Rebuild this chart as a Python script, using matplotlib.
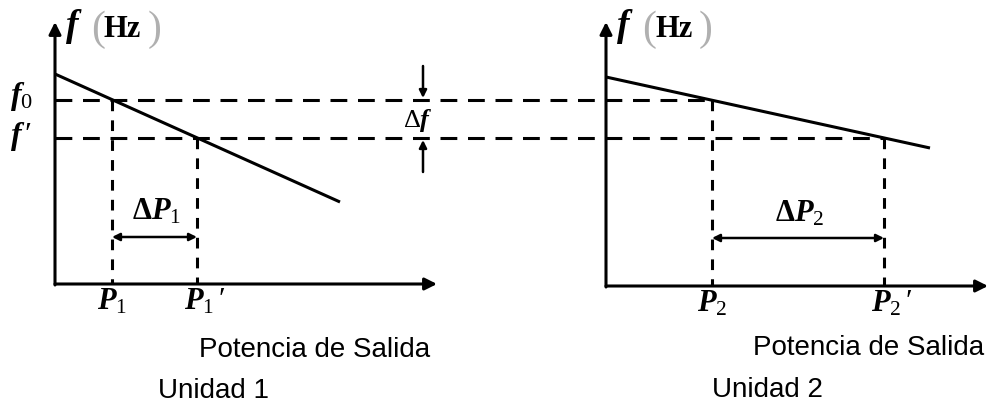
import matplotlib
matplotlib.use('Agg')
from matplotlib import pyplot as plt

plt.rcParams['mathtext.fontset'] = 'custom'
plt.rcParams['mathtext.it'] = 'Liberation Serif:italic:bold'
plt.rcParams['mathtext.rm'] = 'Liberation Serif'
plt.rcParams['mathtext.bf'] = 'Liberation Serif:bold'

# two generator units sharing one frequency change (pixel-like diagram units, y grows downward)
units = ['Unidad 1', 'Unidad 2']
origin_x = [55, 606]
baseline_y = [284, 286]
axis_end_x = [437, 988]
axis_top_y = 22
droop_start_y = [74, 77]
droop_end_x = [340, 930]
droop_end_y = [202, 148]
f_nominal = 100
f_new = 138
p_initial = [112, 712]
p_final = [197, 884]
p_names = [r'$P_1$', r'$P_2$']
p_primes = [r"$P_1\,\prime$", r"$P_2\,\prime$"]
dp_names = [r'$\mathbf{\Delta}P_1$', r'$\mathbf{\Delta}P_2$']

fig = plt.figure(figsize=(9.95, 4.04), dpi=100)
ax = fig.add_axes([0, 0, 1, 1])
ax.set_xlim(0, 995)
ax.set_ylim(404, 0)
ax.axis('off')

lw = 2.2
for i in range(2):
    x0, y0 = origin_x[i], baseline_y[i]
    # axes with arrow heads
    ax.annotate('', xy=(axis_end_x[i], y0), xytext=(x0, y0),
                arrowprops=dict(arrowstyle='-|>', lw=lw, color='k',
                                mutation_scale=18, shrinkA=0, shrinkB=0))
    ax.annotate('', xy=(x0, axis_top_y), xytext=(x0, y0 + 1),
                arrowprops=dict(arrowstyle='-|>', lw=lw, color='k',
                                mutation_scale=18, shrinkA=0, shrinkB=0))
    # droop characteristic
    ax.plot([x0, droop_end_x[i]], [droop_start_y[i], droop_end_y[i]],
            color='k', lw=lw, solid_capstyle='butt')
    # operating points dropped to the power axis
    for px in (p_initial[i], p_final[i]):
        ax.plot([px, px], [f_nominal if px == p_initial[i] else f_new, y0],
                color='k', lw=lw, dashes=(3.5, 3.0))
    # power change arrow
    ya = 237 if i == 0 else 238
    ax.annotate('', xy=(p_final[i], ya), xytext=(p_initial[i], ya),
                arrowprops=dict(arrowstyle='<|-|>', lw=1.8, color='k',
                                mutation_scale=11, shrinkA=0, shrinkB=0))
    ax.text((p_initial[i] + p_final[i]) / 2 + 2, ya - 17, dp_names[i],
            fontsize=22, ha='center', va='baseline')
    ax.text(p_initial[i], baseline_y[i] + 25, p_names[i],
            fontsize=22, ha='center', va='baseline')
    ax.text(p_final[i] + 8, baseline_y[i] + 25, p_primes[i],
            fontsize=22, ha='center', va='baseline')
    # axis labels
    ax.text(x0 + 10, 36, r'$f$', fontsize=27, va='baseline')
    ax.text(x0 + 36, 40, '(', fontsize=30, color='#b0b0b0', va='baseline',
            family='Liberation Serif')
    ax.text(x0 + 49, 37, 'Hz', fontsize=22, weight='bold', va='baseline',
            family='Liberation Serif')
    ax.text(x0 + 93, 40, ')', fontsize=30, color='#b0b0b0', va='baseline',
            family='Liberation Serif')

# frequency levels shared by both units
ax.plot([origin_x[0], p_initial[1]], [f_nominal, f_nominal],
        color='k', lw=lw, dashes=(5.5, 3.5))
ax.plot([origin_x[0], p_final[1]], [f_new, f_new],
        color='k', lw=lw, dashes=(5.5, 3.5))
ax.text(10, 104, r'$f_0$', fontsize=23, va='baseline')
ax.text(10, 144, r"$f\,\prime$", fontsize=23, va='baseline')

# frequency drop marker
ax.annotate('', xy=(423, f_nominal - 2), xytext=(423, 66),
            arrowprops=dict(arrowstyle='-|>', lw=1.8, color='k',
                            mutation_scale=11, shrinkA=0, shrinkB=0))
ax.annotate('', xy=(423, f_new + 2), xytext=(423, 172),
            arrowprops=dict(arrowstyle='-|>', lw=1.8, color='k',
                            mutation_scale=11, shrinkA=0, shrinkB=0))
ax.text(418, 127, r'$\Delta f$', fontsize=19, ha='center', va='baseline')

# captions
ax.text(315, 357, 'Potencia de Salida', fontsize=20, ha='center',
        va='baseline', family='Liberation Sans')
ax.text(869, 355, 'Potencia de Salida', fontsize=20, ha='center',
        va='baseline', family='Liberation Sans')
ax.text(214, 398, units[0], fontsize=20, ha='center', va='baseline',
        family='Liberation Sans')
ax.text(767, 397, units[1], fontsize=20, ha='center', va='baseline',
        family='Liberation Sans')

fig.savefig('out.png', dpi=100)
